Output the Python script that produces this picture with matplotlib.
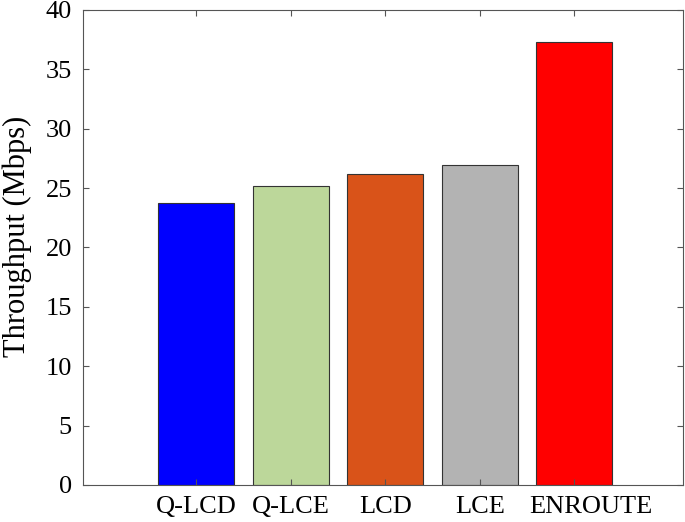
import matplotlib
matplotlib.use("Agg")
import matplotlib.pyplot as plt
import matplotlib.transforms as mtransforms
import numpy as np

# data
methods = ["Q-LCD", "Q-LCE", "LCD", "LCE", "ENROUTE"]
throughput = [23.7, 25.2, 26.2, 26.95, 37.3]
bar_colors = ["#0000ff", "#bcd79a", "#d95319", "#b3b3b3", "#ff0000"]

plt.rcParams["font.family"] = ["Liberation Serif", "DejaVu Serif"]

fig = plt.figure(figsize=(6.85, 5.22), dpi=100)
ax = fig.add_axes([0.121, 0.071, 0.876, 0.910])

x = np.arange(1, len(methods) + 1)
ax.bar(x, throughput, width=0.8, color=bar_colors, edgecolor="#333333", linewidth=0.8)

ax.set_xlim(-0.2, 6.15)
ax.set_ylim(0, 40)
ax.set_yticks(np.arange(0, 41, 5))
ax.set_xticks(x)
ax.set_xticklabels(methods, fontsize=19)
ax.tick_params(axis="y", labelsize=19)
ax.tick_params(direction="in", top=True, right=True, length=4, width=0.8, color="#555555", pad=8)
ax.set_ylabel("Throughput (Mbps)", fontsize=22)
ax.yaxis.set_label_coords(-0.085, 0.524)

# the last label sits a little to the right in the original
shift = mtransforms.ScaledTranslation(17 / 100, 0, fig.dpi_scale_trans)
lab = ax.get_xticklabels()[-1]
lab.set_transform(lab.get_transform() + shift)

for s in ax.spines.values():
    s.set_color("#555555")
    s.set_linewidth(0.8)

fig.savefig("out.png", dpi=100)
